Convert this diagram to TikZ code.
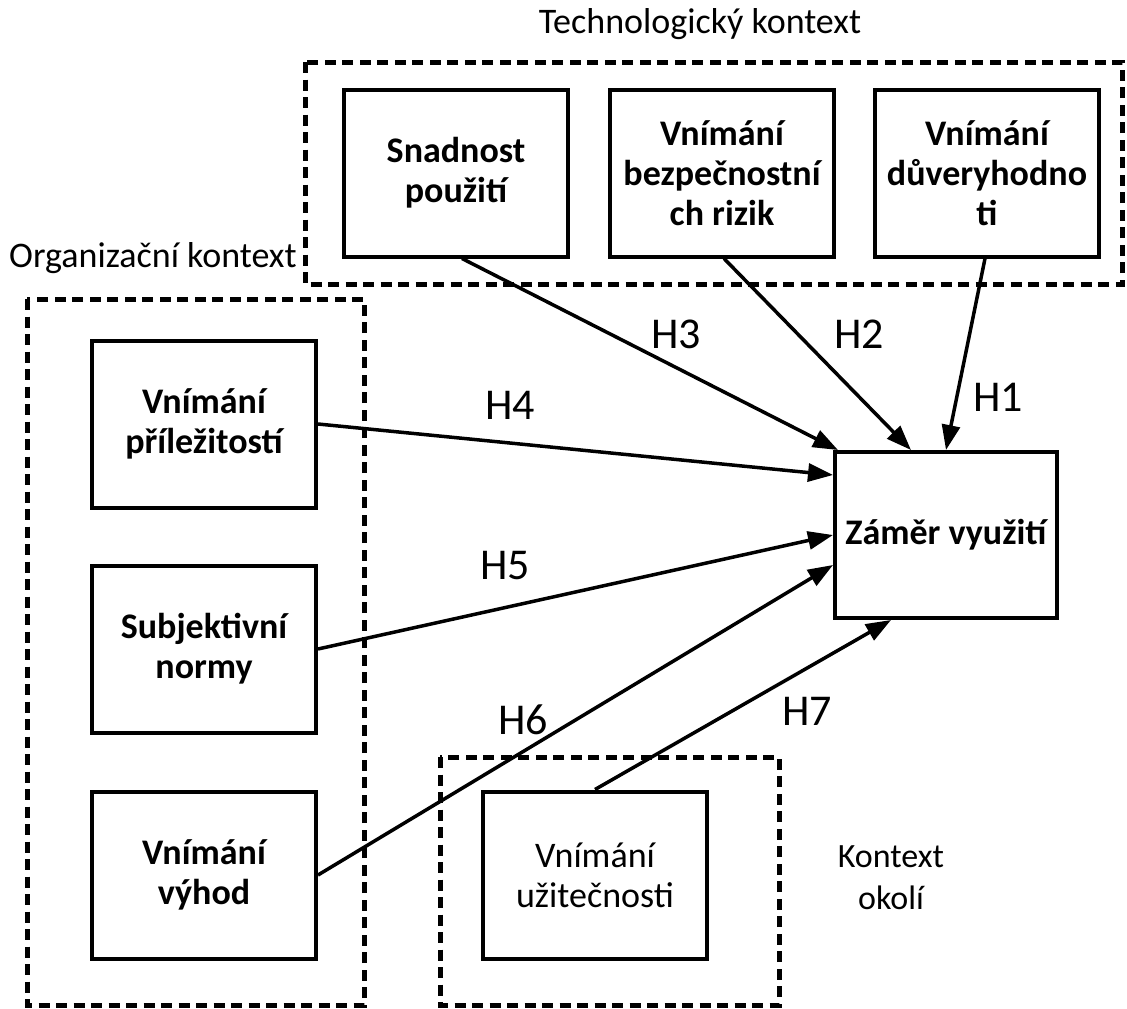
\documentclass[tikz,border=0pt]{standalone}
\usepackage{fontspec}
\setmainfont{Carlito}
\usetikzlibrary{arrows.meta}
\begin{document}
\begin{tikzpicture}[x=1pt,y=-1pt,
  box/.style={draw,line width=4pt,minimum width=224pt,minimum height=167pt,
    align=center,inner sep=0pt,font=\fontsize{36}{40}\selectfont\bfseries},
  plainbox/.style={box,font=\fontsize{36}{40}\selectfont},
  zone/.style={draw,line width=5pt,dash pattern=on 11pt off 6.5pt},
  label/.style={font=\fontsize{36}{40}\selectfont,align=center},
  hyp/.style={font=\fontsize{44}{48}\selectfont,inner sep=0pt},
  link/.style={line width=3.5pt,-{Triangle[length=25pt,width=18pt]}}]
\useasboundingbox (0,0) rectangle (1127,1009);

% context frames
\draw[zone] (305,62) rectangle (1122,284);
\draw[zone] (27,299) rectangle (364,1005);
\draw[zone] (440,757) rectangle (779,1005);

\node[label] (tech) at (700,24) {Technologický kontext};
\node[label] (org) at (153,258) {Organizační kontext};
\node[label,font=\fontsize{34}{42}\selectfont] (okoli) at (891,878) {Kontext\\okolí};

% factors
\node[box] (snad) at (456,173) {Snadnost\\použití};
\node[box] (bezp) at (722,173) {Vnímání\\bezpečnostní\\ch rizik};
\node[box] (duv)  at (987,173) {Vnímání\\důveryhodno\\ti};
\node[box] (pril) at (204,424) {Vnímání\\příležitostí};
\node[box] (subj) at (204,649) {Subjektivní\\normy};
\node[box] (vyh)  at (204,875) {Vnímání\\výhod};
\node[plainbox] (uzit) at (595,875) {Vnímání\\užitečnosti};
\node[box,minimum width=222pt,minimum height=166pt] (zam) at (946,535) {Záměr využití};

% hypotheses
\draw[link] ([xshift=6pt]snad.south) -- ([xshift=5pt]zam.north west);
\draw[link] ([xshift=2pt]bezp.south) -- ([xshift=78pt]zam.north west);
\draw[link] ([xshift=-2pt]duv.south) -- (zam.north);
\draw[link] (pril.east) -- ([yshift=-25pt]zam.north west);
\draw[link] (subj.east) -- (zam.west);
\draw[link] (vyh.east) -- ([yshift=-30pt]zam.west);
\draw[link] (uzit.north) -- ([xshift=58pt]zam.south west);

\node[hyp] (h1) at (998,397) {H1};
\node[hyp] (h2) at (859,334) {H2};
\node[hyp] (h3) at (676,334) {H3};
\node[hyp] (h4) at (510,405) {H4};
\node[hyp] (h5) at (505,566) {H5};
\node[hyp] (h6) at (523,720) {H6};
\node[hyp] (h7) at (807,711) {H7};
\end{tikzpicture}
\end{document}
